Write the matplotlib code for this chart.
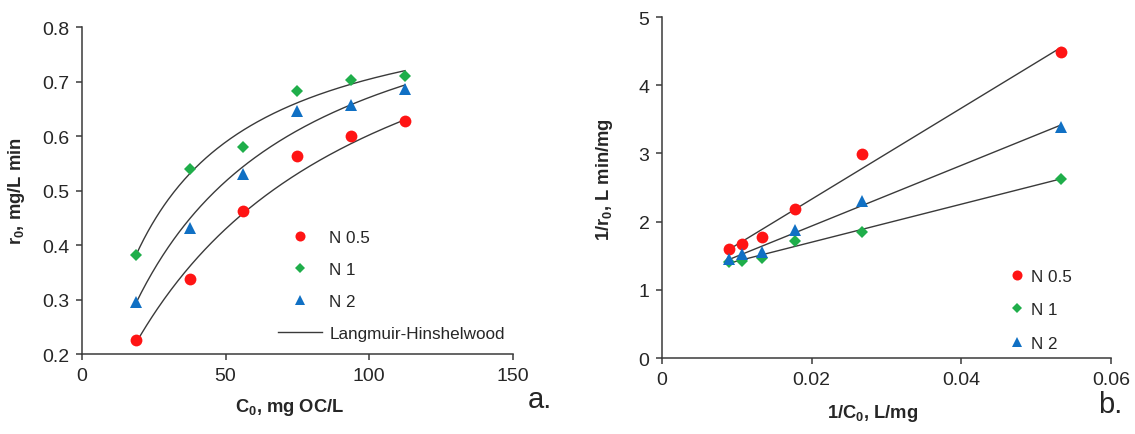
import numpy as np
import matplotlib
matplotlib.use("Agg")
import matplotlib.pyplot as plt
from matplotlib.lines import Line2D

plt.rcParams["font.family"] = ["Liberation Sans", "DejaVu Sans"]
plt.rcParams["mathtext.fontset"] = "custom"
plt.rcParams["mathtext.rm"] = "Liberation Sans"
plt.rcParams["mathtext.bf"] = "Liberation Sans:bold"
plt.rcParams["mathtext.it"] = "Liberation Sans:italic"

# Initial concentrations, mg OC/L
c0 = [18.75, 37.5, 56.25, 75.0, 93.75, 112.5]
# Reciprocal concentrations, L/mg
inv_c0 = [0.0533, 0.0267, 0.0178, 0.0133, 0.0107, 0.0089]

# Initial rates r0, mg/L min
r_n05 = [0.225, 0.338, 0.462, 0.563, 0.600, 0.628]
r_n1 = [0.381, 0.540, 0.579, 0.683, 0.703, 0.710]
r_n2 = [0.295, 0.432, 0.530, 0.646, 0.656, 0.687]

# Reciprocal rates 1/r0, L min/mg
inv_r_n05 = [4.48, 2.99, 2.18, 1.77, 1.67, 1.60]
inv_r_n1 = [2.63, 1.85, 1.72, 1.46, 1.42, 1.41]
inv_r_n2 = [3.39, 2.30, 1.88, 1.55, 1.52, 1.45]

series_labels = ["N 0.5", "N 1", "N 2"]
colors = ["#ff1414", "#1fae4a", "#1070c4"]
markers = ["o", "D", "^"]
msizes = [8.5, 6.5, 9]
line_color = "#3a3a3a"
text_color = "#262626"

fig = plt.figure(figsize=(11.35, 4.35), dpi=100)
axa = fig.add_axes([0.0722, 0.1839, 0.3795, 0.7517])
axb = fig.add_axes([0.5833, 0.1747, 0.3956, 0.7839])

for ax in (axa, axb):
    for s in ("top", "right"):
        ax.spines[s].set_visible(False)
    for s in ("left", "bottom"):
        ax.spines[s].set_color("#3a3a3a")
        ax.spines[s].set_linewidth(1.1)
    ax.tick_params(direction="out", length=4, width=1.1, color="#3a3a3a",
                   labelsize=14, labelcolor=text_color, pad=5)

# Panel b: linearised Langmuir-Hinshelwood fits
rates = [r_n05, r_n1, r_n2]
inv_rates = [inv_r_n05, inv_r_n1, inv_r_n2]
fits = []
x_inv = np.array(inv_c0)
for yv in inv_rates:
    slope, icpt = np.polyfit(x_inv, np.array(yv), 1)
    fits.append((slope, icpt))
    xs = np.linspace(x_inv.min(), x_inv.max(), 50)
    axb.plot(xs, slope * xs + icpt, color=line_color, lw=1.0, zorder=1)
for yv, col, mk, ms, lab in zip(inv_rates, colors, markers, msizes, series_labels):
    axb.plot(inv_c0, yv, linestyle="none", marker=mk, markersize=ms,
             color=col, markeredgewidth=0, label=lab, zorder=3)

# Panel a: rate curves r0 = C0 / (a*C0 + b)
c_arr = np.array(c0)
cs = np.linspace(c_arr.min(), c_arr.max(), 200)
for slope, icpt in fits:
    axa.plot(cs, cs / (icpt * cs + slope), color=line_color, lw=1.0, zorder=1)
for yv, col, mk, ms, lab in zip(rates, colors, markers, msizes, series_labels):
    axa.plot(c0, yv, linestyle="none", marker=mk, markersize=ms,
             color=col, markeredgewidth=0, zorder=3)

axa.set_xlim(0, 150)
axa.set_ylim(0.2, 0.8)
axa.set_xticks([0, 50, 100, 150])
axa.set_yticks(np.arange(0.2, 0.81, 0.1))
axa.set_yticklabels([f"{v:.1f}" for v in np.arange(0.2, 0.81, 0.1)])
axa.set_xlabel(r"C$_\mathbf{0}$, mg OC/L", fontsize=13.2, fontweight="bold", color=text_color)
axa.set_ylabel(r"r$_\mathbf{0}$, mg/L min", fontsize=13.2, fontweight="bold", color=text_color)
axa.xaxis.set_label_coords(0.483, -0.128)
axa.yaxis.set_label_coords(-0.128, 0.5)

axb.set_xlim(0, 0.06)
axb.set_ylim(0, 5)
axb.set_xticks([0, 0.02, 0.04, 0.06])
axb.set_xticklabels(["0", "0.02", "0.04", "0.06"])
axb.set_yticks([0, 1, 2, 3, 4, 5])
axb.set_xlabel(r"1/C$_\mathbf{0}$, L/mg", fontsize=13.2, fontweight="bold", color=text_color)
axb.set_ylabel(r"1/r$_\mathbf{0}$, L min/mg", fontsize=13.2, fontweight="bold", color=text_color)
axb.xaxis.set_label_coords(0.468, -0.128)
axb.yaxis.set_label_coords(-0.105, 0.525)

leg_handles = [Line2D([], [], linestyle="none", marker=mk, markersize=ms * 0.85,
                      color=col, markeredgewidth=0, label=lab)
               for col, mk, ms, lab in zip(colors, markers, msizes, series_labels)]
leg_handles.append(Line2D([], [], color=line_color, lw=1.0, label="Langmuir-Hinshelwood"))
axa.legend(handles=leg_handles, loc="upper left", bbox_to_anchor=(0.455, 0.38),
           frameon=False, fontsize=12.3, handlelength=2.6, handletextpad=0.4,
           labelspacing=1.0, borderpad=0, borderaxespad=0, labelcolor=text_color)

axb.legend(handles=leg_handles[:3], loc="upper left", bbox_to_anchor=(0.772, 0.262),
           frameon=False, fontsize=12.3, handlelength=1.0, handletextpad=0.3,
           labelspacing=1.08, borderpad=0, borderaxespad=0, labelcolor=text_color)

fig.text(0.476, 0.08, "a.", fontsize=21, color=text_color, ha="center", va="center")
fig.text(0.978, 0.068, "b.", fontsize=21, color=text_color, ha="center", va="center")

fig.savefig("out.png", dpi=100)
